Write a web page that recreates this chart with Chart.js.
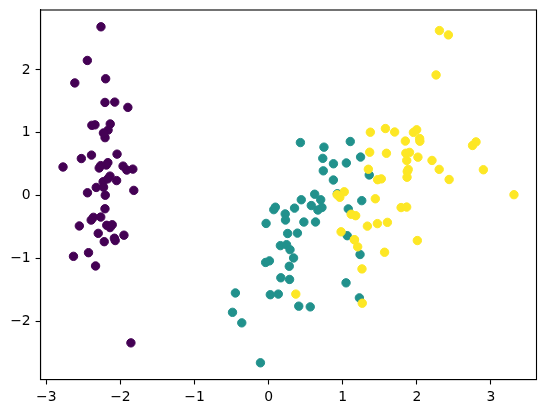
<!DOCTYPE html>
<html>
<head>
<meta charset="utf-8">
<script src="https://cdn.jsdelivr.net/npm/chart.js@4.4.0/dist/chart.umd.min.js"></script>
<style>
html,body{margin:0;padding:0;background:#fff;}
#wrap{width:546px;height:413px;position:relative;}
</style>
</head>
<body>
<div id="wrap"><canvas id="c" width="546" height="413"></canvas></div>
<script>
// PC scores (standardized iris PCA)
const setosaX = [-2.265,-2.081,-2.364,-2.299,-2.390,-2.076,-2.444,-2.233,-2.335,-2.184,-2.166,-2.326,-2.218,-2.633,-2.199,-2.262,-2.208,-2.190,-1.899,-2.343,-1.914,-2.207,-2.774,-1.819,-2.227,-1.952,-2.051,-2.169,-2.140,-2.265,-2.140,-1.832,-2.615,-2.446,-2.110,-2.208,-2.045,-2.527,-2.430,-2.170,-2.286,-1.858,-2.554,-1.964,-2.137,-2.070,-2.385,-2.394,-2.229,-2.204];
const setosaY = [0.480,-0.674,-0.342,-0.597,0.647,1.489,0.048,0.223,-1.115,-0.469,1.044,0.133,-0.729,-0.962,1.860,2.686,1.484,0.489,1.405,1.128,0.409,0.924,0.458,0.086,0.137,-0.626,0.242,0.527,0.313,-0.338,-0.505,0.424,1.794,2.151,-0.460,-0.206,0.662,0.592,-0.904,0.269,0.442,-2.337,-0.479,0.472,1.142,-0.711,1.120,-0.386,0.998,0.009];
const versicolorX = [1.102,0.731,1.241,0.407,1.075,0.389,0.747,-0.487,0.928,0.011,-0.110,0.441,0.562,0.720,-0.034,0.875,0.350,0.159,1.225,0.165,0.738,0.476,1.234,0.633,0.703,0.874,1.257,1.358,0.665,-0.040,0.131,0.023,0.242,1.061,0.224,0.429,1.049,1.045,0.070,0.283,0.279,0.622,0.337,-0.362,0.289,0.091,0.228,0.576,-0.448,0.257];
const versicolorY = [0.863,0.595,0.616,-1.754,-0.208,-0.593,0.773,-1.852,0.032,-1.034,-2.654,-0.063,-1.765,-0.186,-0.439,0.509,-0.196,-0.792,-1.622,-1.303,0.397,-0.417,-0.933,-0.416,-0.063,0.251,-0.077,0.331,-0.226,-1.059,-1.562,-1.572,-0.777,-0.634,-0.288,0.846,0.522,-1.383,-0.220,-1.329,-1.120,0.025,-0.988,-2.019,-0.856,-0.181,-0.385,-0.155,-1.544,-0.599];
const virginicaX = [1.845,1.158,2.205,1.440,1.868,2.752,0.367,2.302,2.007,2.260,1.364,1.603,1.884,1.260,1.468,1.590,1.471,2.426,3.311,1.264,2.038,0.978,2.898,1.333,1.701,1.954,1.175,1.021,1.788,1.864,2.436,2.305,1.863,1.114,1.202,2.799,1.576,1.346,0.925,1.852,2.015,1.902,1.158,2.041,1.998,1.871,1.565,1.521,1.373,0.961];
const virginicaY = [0.870,-0.699,0.562,-0.047,0.295,0.800,-1.562,0.420,-0.711,1.921,0.693,-0.422,0.419,-1.162,-0.442,0.676,0.256,2.557,0.018,-1.707,0.910,-0.572,0.414,-0.482,1.014,1.008,-0.316,0.064,-0.187,0.562,0.259,2.626,-0.179,-0.293,-0.811,0.857,1.069,0.422,0.017,0.676,0.614,0.690,-0.699,0.868,1.049,0.387,-0.897,0.269,1.011,-0.024];
const xTicks = [-3,-2,-1,0,1,2,3];
const yTicks = [-2,-1,0,1,2];

const toPts = (xs, ys) => xs.map((x, i) => ({x: x, y: ys[i]}));
const fmt = v => (v < 0 ? '\u2212' + Math.abs(v) : String(v));

const framePlugin = {
  id: 'frame',
  afterDraw(chart) {
    const a = chart.chartArea, ctx = chart.ctx;
    ctx.save();
    ctx.strokeStyle = '#000';
    ctx.lineWidth = 1.1;
    ctx.strokeRect(a.left, a.top, a.right - a.left, a.bottom - a.top);
    ctx.restore();
  }
};

const ds = (label, xs, ys, color, order) => ({
  label: label, data: toPts(xs, ys),
  backgroundColor: color, borderColor: color, borderWidth: 1,
  pointRadius: 4.2, pointHoverRadius: 4.2, order: order
});

new Chart(document.getElementById('c'), {
  type: 'scatter',
  data: {
    datasets: [
      ds('setosa', setosaX, setosaY, '#440154', 3),
      ds('versicolor', versicolorX, versicolorY, '#21918c', 2),
      ds('virginica', virginicaX, virginicaY, '#fde725', 1)
    ]
  },
  options: {
    responsive: false,
    animation: false,
    devicePixelRatio: 1,
    layout: {padding: {top: 10, right: 9.5, left: 0, bottom: 0}},
    plugins: {legend: {display: false}, tooltip: {enabled: false}},
    scales: {
      x: {
        type: 'linear', min: -3.078, max: 3.615,
        afterBuildTicks: s => { s.ticks = xTicks.map(v => ({value: v})); },
        afterFit: s => { s.height = 33.4; s.paddingLeft = 0; s.paddingRight = 0; },
        grid: {drawOnChartArea: false, drawTicks: true, tickLength: 4.9, color: '#000', tickWidth: 1.1},
        border: {display: true, color: '#000', width: 1.1},
        ticks: {color: '#000', padding: 4.9, maxRotation: 0, autoSkip: false,
          font: {family: 'DejaVu Sans', size: 13.9}, callback: v => fmt(v)}
      },
      y: {
        type: 'linear', min: -2.921, max: 2.953,
        afterBuildTicks: s => { s.ticks = yTicks.map(v => ({value: v})); },
        afterFit: s => { s.width = 40.5; s.paddingTop = 0; s.paddingBottom = 0; },
        grid: {drawOnChartArea: false, drawTicks: true, tickLength: 4.9, color: '#000', tickWidth: 1.1},
        border: {display: true, color: '#000', width: 1.1},
        ticks: {color: '#000', padding: 4.9, autoSkip: false,
          font: {family: 'DejaVu Sans', size: 13.9}, callback: v => fmt(v)}
      }
    }
  },
  plugins: [framePlugin]
});
</script>
</body>
</html>
